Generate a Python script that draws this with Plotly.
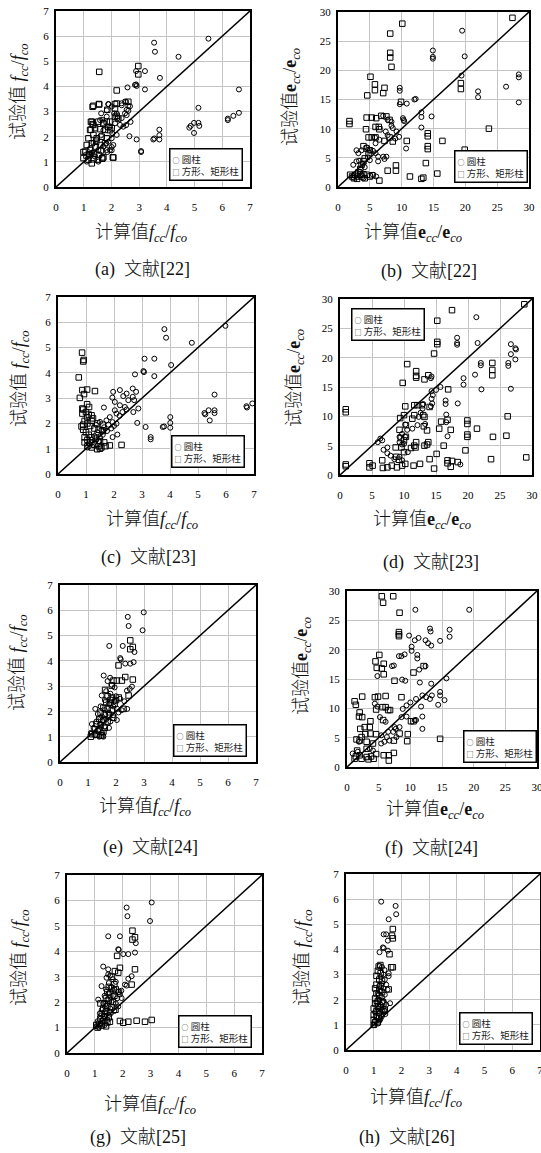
import plotly.graph_objects as go

W, H = 541, 1153
FONT = "Liberation Serif, 'Noto Sans CJK SC', serif"
CJK = "'Noto Sans CJK SC', Liberation Serif, sans-serif"

# ---------------- data (x = calculated, y = test) ----------------
F_TICKS = [0, 1, 2, 3, 4, 5, 6, 7]
E_TICKS = [0, 5, 10, 15, 20, 25, 30]
F_DIAG = [0, 7]
E_DIAG = [0, 30]
LEGEND_NAMES = ["圆柱", "方形、矩形柱"]

A_circle = [(3.54,5.74),(3.57,5.38),(5.50,5.90),(4.42,5.18),(3.75,4.34),(3.21,4.61),(2.89,4.61),(2.89,4.08),(2.91,4.02),(3.21,3.88),
 (2.58,3.96),(6.60,3.88),(5.14,3.15),(6.60,2.95),(6.40,2.83),(6.20,2.72),(6.20,2.66),(4.98,2.55),(5.14,2.55),(5.17,2.43),
 (4.86,2.43),(4.81,2.36),(4.98,2.15),(3.73,2.28),(3.73,2.06),(3.73,1.89),(3.51,1.89),(3.55,1.93),(2.91,1.89),(2.65,2.02),
 (3.07,1.43),(3.07,1.39),(2.53,3.39),(2.67,3.21),(2.61,3.03),(2.55,2.86),(2.69,2.59),(2.53,2.46),(2.37,3.25),(2.19,2.92),
 (1.89,3.29),(1.83,3.05),(1.59,2.66),(1.71,2.26),(1.81,1.73),(2.01,1.59),(2.01,1.46),(1.85,1.39),
 (2.85,4.06),(1.89,3.30),(2.01,3.20),(2.37,3.33),(2.49,3.40),(2.61,3.23),(1.83,2.80),(2.10,2.93),(2.23,2.74),(2.37,2.74),
 (2.49,2.93),(2.55,3.07),(1.63,2.93),(1.67,2.67),(1.95,2.40),(2.13,2.53),(2.31,2.47),(2.43,2.40),(2.03,2.14),(2.19,2.07),
 (1.89,1.80),(2.01,1.94),(2.07,1.67),(1.71,1.61),(1.53,1.47),(1.83,1.47),(1.95,1.47),(1.41,1.21),(1.23,1.21),(1.11,1.01),
 (1.53,1.01),(1.35,1.75),(1.25,1.55),(1.45,1.90),(1.62,2.05),(1.30,1.35),(1.18,1.30)]
A_square = [(2.97,4.81),(2.97,4.48),(1.56,4.58),(2.19,3.84),(1.56,3.28),(1.32,3.19),(2.19,3.32),(2.13,3.12),(2.61,3.39),(1.26,2.59),
 (1.32,2.50),(1.26,2.28),(2.07,1.17),(1.67,1.13),(0.99,1.39),(2.13,2.79),(1.95,2.26),(1.89,2.39),(1.71,2.52),(2.25,2.72),
 (1.35,3.23),(1.55,3.30),(1.85,3.07),(2.13,3.30),(1.29,2.60),(1.35,2.47),(1.53,2.60),(1.71,2.54),(1.83,2.60),(1.95,2.60),
 (2.19,2.83),(1.23,2.27),(1.41,2.34),(1.59,2.30),(1.77,2.27),(2.01,2.34),(1.17,1.94),(1.35,2.07),(1.47,1.94),(1.65,2.00),
 (1.83,1.94),(1.11,1.67),(1.29,1.74),(1.43,1.61),(1.59,1.67),(1.77,1.74),(1.05,1.41),(1.23,1.47),(1.38,1.34),(1.55,1.27),
 (1.71,1.18),(0.99,1.15),(1.17,1.08),(1.35,1.10),(1.51,1.08),(1.67,1.14),(2.05,1.18),(1.29,0.94),(1.20,1.30),(1.45,1.80),
 (1.62,1.45),(1.10,1.25)]

B_circle = [(19.5,26.8),(14.9,23.4),(14.9,22.3),(14.9,22.0),(19.9,22.4),(19.4,19.1),(28.4,19.3),(28.4,18.8),(28.4,14.5),(26.4,17.2),
 (22.0,16.4),(22.0,15.4),(12.0,15.0),(10.8,14.3),(9.7,17.0),(9.7,16.5),(9.7,14.2),(14.7,12.1),(13.1,12.8),(13.1,12.0),
 (13.1,10.2),(10.3,11.5),(7.1,12.2),(7.8,11.5),(8.4,11.2),(8.6,10.1),(9.2,9.5),(9.6,8.6),(10.2,11.8),(10.4,11.3),
 (9.0,8.3),(7.5,9.5),(7.8,8.9),(6.5,8.1),(5.9,7.5),(2.9,6.3),(3.2,5.8),(3.7,6.3),(5.5,6.2),(5.9,5.8),
 (6.3,5.2),(7.1,5.2),(7.6,5.2),(7.3,4.8),(6.3,4.4),(2.9,4.4),(3.3,4.5),(2.4,3.8),(4.2,3.4),(2.4,1.6),
 (5.5,2.1),(6.0,1.8),(10.7,6.6),(12.2,15.1),(8.4,10.5),(5.8,8.5),(4.5,6.8),(5.0,6.3),(4.7,5.1),(5.0,4.6),
 (3.9,4.0),(3.5,2.6),(4.0,1.5)]
B_square = [(10.1,28.0),(27.4,29.0),(8.2,26.3),(8.2,23.0),(8.2,22.2),(8.4,20.6),(5.1,18.9),(5.8,17.6),(5.8,16.6),(7.3,17.0),
 (7.1,16.1),(4.6,15.7),(9.9,14.6),(1.8,11.3),(1.8,10.8),(14.1,9.2),(14.1,8.7),(14.1,7.0),(14.1,6.5),(16.4,7.9),
 (23.7,10.0),(19.9,6.4),(19.3,17.8),(19.3,16.8),(13.8,4.1),(13.1,1.4),(13.4,1.6),(15.6,2.3),(4.5,11.9),(5.3,11.9),
 (6.0,11.8),(6.8,12.2),(7.6,12.1),(8.1,11.5),(4.4,9.9),(5.9,10.3),(6.4,10.3),(6.5,9.9),(4.8,8.5),(5.3,8.5),
 (5.9,8.5),(7.3,7.9),(8.1,8.5),(8.6,7.8),(10.8,7.9),(4.0,7.0),(4.5,6.6),(5.0,6.3),(4.8,5.8),(4.2,4.9),
 (4.0,4.4),(3.7,3.8),(3.5,3.1),(3.2,2.5),(1.9,2.1),(2.2,1.8),(2.7,2.1),(3.0,1.8),(3.5,2.1),(3.7,1.8),
 (4.0,2.2),(4.5,2.1),(5.0,1.8),(5.4,2.0),(6.5,1.1),(7.8,2.8),(9.1,3.7),(9.1,2.8),(11.3,1.8),(2.5,1.5),
 (3.0,1.4),(4.2,1.5)]

C_circle = [(3.80,5.73),(3.86,5.39),(5.98,5.86),(4.78,5.19),(3.09,4.56),(3.44,4.56),(4.04,4.31),(3.05,4.07),(3.07,4.03),(3.44,3.87),
 (2.75,3.94),(5.59,3.14),(6.94,2.79),(6.73,2.68),(6.75,2.63),(5.23,2.41),(5.38,2.52),(5.59,2.52),(5.59,2.41),(5.42,2.12),
 (5.26,2.36),(4.01,2.25),(4.01,2.02),(4.01,1.83),(3.79,1.88),(3.74,1.86),(3.13,1.86),(2.83,2.02),(3.31,1.46),(3.31,1.37),
 (2.67,3.38),(2.79,3.25),(2.67,3.05),(2.72,2.92),(2.87,2.59),(2.69,2.45),(2.21,3.32),(2.33,3.08),(1.97,3.25),(1.94,3.02),
 (2.03,2.85),(2.21,2.72),(2.39,2.65),(2.51,2.92),(2.45,3.18),(1.64,2.63),(2.03,2.52),(2.09,1.99),(1.95,1.46),(2.12,1.56),
 (2.09,2.39),(1.85,2.25),(1.73,2.12),(1.50,2.06),(1.95,2.05),(1.80,1.95),(1.65,1.85),(1.55,1.75),(1.40,1.65),(1.30,1.50),
 (1.20,1.35),(1.10,1.20),(1.05,1.05),(1.25,1.15),(1.45,1.30),(1.60,1.55),(1.75,1.70),(1.90,1.80),(2.00,1.90),(1.35,1.95),
 (1.50,1.45),(2.20,2.30),(2.30,2.45),(2.45,2.55)]
C_square = [(0.86,4.80),(0.92,4.51),(0.90,4.45),(0.74,3.82),(0.78,3.01),(0.87,3.32),(0.93,3.16),(1.04,3.34),(1.32,3.28),(1.04,2.76),
 (1.11,2.65),(0.87,2.59),(0.87,2.39),(1.20,2.32),(1.04,2.25),(0.84,1.88),(2.27,1.15),(1.85,1.13),(0.90,2.55),(1.00,2.45),
 (1.10,2.35),(1.25,2.20),(0.95,2.10),(1.05,2.00),(1.15,1.90),(1.30,1.80),(1.45,1.75),(1.60,1.70),(0.90,1.75),(1.00,1.65),
 (1.10,1.55),(1.20,1.45),(1.35,1.40),(1.50,1.30),(1.65,1.25),(0.95,1.45),(1.05,1.35),(1.15,1.25),(1.30,1.15),(1.45,1.10),
 (1.55,1.05),(1.70,1.10),(0.95,1.25),(1.05,1.10),(1.20,1.05),(1.40,0.98),(1.50,1.00),(0.90,1.95),(1.20,2.10),(1.40,2.00),
 (1.60,1.95)]

D_circle = [(21.3,26.9),(18.3,23.4),(18.3,22.5),(18.3,22.2),(21.5,22.5),(22.0,19.1),(22.0,18.7),(21.1,17.1),(19.3,16.5),(19.3,15.4),
 (22.1,14.6),(26.7,22.3),(26.7,20.6),(27.4,21.6),(27.5,21.4),(27.4,19.7),(26.3,19.1),(26.3,18.6),(26.7,14.7),(15.7,15.0),
 (15.0,14.5),(14.3,14.3),(14.5,13.6),(14.3,13.0),(14.4,12.2),(14.2,11.7),(16.5,12.7),(16.5,12.1),(18.4,12.2),(16.6,10.3),
 (16.6,9.0),(16.8,6.6),(18.8,1.8),(14.3,16.8),(14.2,16.5),(13.0,12.1),(12.9,11.3),(12.6,10.6),(12.3,9.9),(13.3,8.7),
 (12.1,8.5),(11.3,7.9),(10.5,7.7),(10.6,3.9),(10.2,6.5),(9.7,7.0),(9.3,6.5),(9.3,5.6),(10.0,5.3),(9.7,5.2),
 (6.6,5.9),(6.3,6.2),(5.9,5.6),(6.8,4.3),(7.4,4.7),(7.4,3.7),(7.9,3.3),(8.5,2.7),(9.3,3.1),(9.7,2.5),
 (10.2,8.6)]
D_square = [(17.5,28.1),(28.8,29.1),(15.2,26.3),(15.2,22.7),(15.2,22.3),(14.7,20.7),(10.5,18.9),(11.9,17.7),(11.9,16.9),(11.9,16.6),
 (13.8,17.0),(13.2,16.3),(9.8,15.7),(16.9,14.6),(23.8,19.1),(23.8,17.9),(23.8,17.0),(19.9,9.3),(19.9,8.7),(19.9,6.9),
 (19.9,6.5),(21.4,7.9),(26.2,10.0),(26.0,6.7),(23.9,6.5),(23.6,2.7),(29.1,3.0),(16.8,9.4),(15.8,9.1),(15.5,7.9),
 (17.3,7.7),(19.6,4.2),(16.2,5.0),(15.1,3.6),(14.7,1.1),(16.8,2.5),(16.8,2.0),(17.5,2.4),(17.3,1.4),(18.4,2.2),
 (14.0,2.7),(12.5,1.9),(11.5,1.6),(0.9,1.8),(0.9,1.5),(0.9,11.2),(0.9,10.7),(4.6,2.0),(5.1,1.6),(4.6,1.3),
 (6.6,2.5),(6.7,1.2),(7.4,1.3),(8.1,1.6),(8.9,1.3),(8.8,3.1),(9.2,2.6),(9.7,1.6),(10.2,1.9),(8.7,4.7),
 (9.6,4.7),(9.5,6.3),(9.3,7.7),(9.4,9.7),(10.2,11.7),(10.0,10.2),(10.3,8.5),(10.3,6.5),(10.0,5.9),(10.0,3.9),
 (11.1,4.6),(11.8,4.7),(11.9,5.6),(11.3,9.6),(11.6,11.9),(11.6,10.2),(12.1,11.9),(12.8,11.9),(13.2,9.9),(13.0,10.2),
 (13.1,8.3),(13.6,7.6),(13.8,5.6),(13.6,5.2),(13.2,5.0),(14.0,11.6),(11.6,5.0)]

E_circle = [(2.99,5.92),(2.42,5.74),(2.45,5.38),(2.95,5.21),(1.76,4.59),(2.24,4.59),(2.66,4.35),(2.15,4.11),(2.17,4.06),(2.33,3.89),
 (2.51,3.89),(2.63,3.95),(1.56,3.42),(1.79,3.33),(2.57,2.98),(2.49,2.89),(2.39,2.82),(1.49,2.63),(2.09,1.96),(2.03,1.66),
 (1.26,2.10),(1.44,1.76),(1.14,1.50),(1.70,3.20),(1.85,3.05),(1.95,2.95),(1.65,2.80),(1.80,2.70),(2.00,2.60),(2.15,2.50),
 (2.30,2.40),(1.60,2.45),(1.75,2.30),(1.90,2.20),(2.05,2.10),(1.45,2.20),(1.60,2.05),(1.75,1.95),(1.90,1.85),(1.35,1.90),
 (1.50,1.80),(1.65,1.70),(1.80,1.60),(1.30,1.60),(1.45,1.50),(1.60,1.40),(1.75,1.35),(1.20,1.35),(1.35,1.25),(1.50,1.15),
 (1.25,1.05),(1.40,1.00),(1.10,1.15),(1.55,1.00),(2.20,2.05),(2.40,2.10),(1.95,2.40)]
E_square = [(2.51,4.81),(2.60,4.55),(2.51,4.46),(2.09,3.82),(2.60,3.26),(2.33,3.36),(1.91,3.22),(2.03,3.22),(2.21,3.22),(1.85,3.02),
 (1.61,2.85),(2.45,2.63),(2.27,2.10),(1.70,2.60),(1.85,2.55),(2.00,2.45),(1.65,2.35),(1.80,2.35),(1.95,2.30),(1.55,2.15),
 (1.70,2.10),(1.85,2.05),(1.45,1.95),(1.60,1.90),(1.75,1.85),(1.90,1.75),(1.40,1.70),(1.55,1.65),(1.70,1.60),(1.30,1.50),
 (1.45,1.45),(1.60,1.35),(1.25,1.30),(1.40,1.25),(1.55,1.20),(1.15,1.10),(1.30,1.08),(1.45,1.05),(1.10,1.00),(1.80,2.45),
 (2.10,2.55),(1.50,1.05)]

F_circle = [(10.8,26.8),(19.3,26.8),(9.8,22.4),(11.3,22.0),(10.7,21.6),(13.1,23.6),(13.2,23.1),(16.2,23.4),(16.2,22.2),(14.7,21.5),
 (12.4,21.6),(12.8,21.1),(13.3,20.7),(10.2,20.5),(10.2,19.8),(11.1,19.1),(11.1,18.5),(9.1,19.2),(8.2,18.9),(8.6,18.9),
 (7.4,17.3),(7.1,17.2),(11.4,16.6),(12.4,17.2),(8.7,14.9),(9.2,14.7),(11.5,14.4),(13.3,14.2),(15.7,15.1),(4.8,15.5),
 (11.9,12.2),(13.4,12.2),(14.7,12.2),(14.7,12.8),(15.4,11.4),(14.4,10.6),(11.7,10.3),(10.9,11.6),(10.0,11.0),(9.4,10.5),
 (8.8,9.9),(8.6,8.5),(9.4,8.6),(8.3,6.8),(7.7,6.5),(7.3,6.0),(7.5,6.8),(11.9,8.6),(11.9,6.5),(10.7,8.0),
 (10.9,8.0),(12.5,11.9),(13.1,11.6),(4.4,10.8),(4.8,10.3),(5.2,8.5),(6.1,7.7),(6.3,5.1),(5.4,5.4),(5.9,4.3),
 (6.7,4.5),(5.4,4.0),(6.5,6.0),(7.8,5.1),(1.9,4.3),(3.6,3.1),(4.1,2.8),(1.7,2.6),(0.9,2.3)]
F_square = [(5.5,29.1),(7.3,29.1),(5.7,28.0),(8.3,26.3),(8.2,23.0),(8.2,22.6),(8.2,22.3),(5.1,19.1),(5.8,17.6),(4.5,18.0),
 (4.7,16.9),(5.5,16.8),(5.8,15.8),(7.5,14.7),(12.1,17.2),(10.5,16.1),(2.4,12.0),(1.2,11.2),(1.4,10.6),(4.4,11.9),
 (4.9,12.0),(6.1,12.1),(4.6,9.8),(6.1,10.2),(5.6,10.2),(6.5,9.7),(6.8,9.7),(2.0,9.3),(1.9,8.6),(2.4,8.5),
 (3.7,7.8),(5.7,8.0),(8.6,11.9),(8.3,5.7),(9.6,5.6),(9.5,4.4),(10.1,7.8),(10.5,7.8),(14.7,4.8),(7.4,2.4),
 (6.6,2.0),(6.6,1.1),(5.8,2.0),(7.4,4.5),(2.1,6.5),(2.8,6.8),(3.6,6.8),(2.3,5.1),(2.9,5.6),(3.7,5.7),
 (4.6,5.6),(1.5,4.7),(2.0,4.5),(3.1,4.3),(4.1,4.0),(1.4,1.8),(1.2,1.4),(2.0,2.0),(2.3,1.4),(3.1,1.7),
 (3.8,1.8),(3.4,1.3),(4.2,1.4),(4.6,2.2),(1.6,2.8),(3.1,3.1)]

G_circle = [(3.04,5.92),(2.14,5.72),(2.17,5.38),(2.98,5.19),(1.48,4.59),(1.90,4.59),(2.47,4.32),(1.84,4.08),(1.86,4.06),(2.02,3.89),
 (2.20,3.89),(2.44,3.95),(1.30,3.40),(1.48,3.29),(2.32,3.02),(2.20,2.92),(2.08,2.69),(2.14,2.65),(1.24,2.63),(1.48,3.09),
 (1.42,2.96),(1.96,2.16),(1.84,1.83),(1.12,2.10),(1.18,1.56),(1.55,3.05),(1.65,2.90),(1.75,2.80),(1.50,2.75),(1.60,2.60),
 (1.70,2.50),(1.85,2.40),(1.40,2.50),(1.50,2.35),(1.65,2.25),(1.80,2.15),(1.35,2.25),(1.45,2.10),(1.60,2.00),(1.75,1.95),
 (1.30,1.95),(1.40,1.85),(1.55,1.75),(1.70,1.65),(1.25,1.70),(1.35,1.60),(1.50,1.50),(1.20,1.45),(1.30,1.35),(1.45,1.30),
 (1.10,1.25),(1.20,1.15),(1.35,1.10),(1.05,1.05),(1.15,1.00),(1.95,2.45),(1.90,2.30)]
G_square = [(2.35,4.81),(2.44,4.55),(2.35,4.46),(1.80,3.82),(2.44,3.29),(1.90,3.35),(1.72,3.22),(1.84,3.16),(2.32,2.69),(1.74,1.70),
 (1.54,1.23),(1.90,1.26),(2.02,1.19),(2.20,1.23),(2.50,1.27),(2.80,1.23),(3.04,1.30),(1.50,2.60),(1.60,2.55),(1.75,2.50),
 (1.45,2.40),(1.55,2.30),(1.70,2.25),(1.85,2.40),(1.40,2.15),(1.50,2.05),(1.65,2.00),(1.35,1.95),(1.45,1.85),(1.60,1.80),
 (1.30,1.75),(1.40,1.65),(1.55,1.60),(1.25,1.55),(1.35,1.45),(1.50,1.40),(1.20,1.35),(1.30,1.25),(1.45,1.20),(1.15,1.15),
 (1.25,1.08),(1.40,1.05),(1.10,1.00),(1.05,1.10),(1.20,1.95),(1.60,3.00),(1.70,2.70)]

H_circle = [(1.27,5.90),(1.79,5.73),(1.81,5.40),(1.54,5.20),(1.36,4.60),(1.45,4.60),(1.51,4.35),(1.33,4.08),(1.36,4.05),(1.21,3.89),
 (1.51,3.95),(1.21,3.34),(1.39,3.18),(1.54,3.05),(1.54,2.94),(1.59,1.86),(1.42,1.43),(1.21,1.17),(1.30,3.30),(1.35,3.00),
 (1.25,2.90),(1.40,2.80),(1.30,2.65),(1.20,2.55),(1.35,2.45),(1.25,2.35),(1.15,2.25),(1.40,2.20),(1.30,2.10),(1.20,2.00),
 (1.10,1.90),(1.35,1.95),(1.45,1.80),(1.25,1.80),(1.15,1.65),(1.30,1.60),(1.40,1.55),(1.05,1.50),(1.20,1.45),(1.30,1.35),
 (1.10,1.30),(1.25,1.25),(1.05,1.15),(1.15,1.05),(1.00,1.00),(1.50,2.40),(1.45,2.60)]
H_square = [(1.69,4.81),(1.66,4.55),(1.69,4.44),(1.57,3.81),(1.63,3.29),(1.69,3.29),(1.54,2.41),(1.18,3.32),(1.24,3.38),(1.15,3.15),
 (1.25,3.05),(1.10,2.95),(1.20,2.80),(1.30,2.75),(1.10,2.60),(1.25,2.55),(1.05,2.45),(1.20,2.40),(1.30,2.30),(1.10,2.25),
 (1.20,2.15),(1.05,2.05),(1.15,1.95),(1.30,1.90),(1.05,1.85),(1.15,1.75),(1.25,1.70),(1.00,1.65),(1.10,1.55),(1.20,1.50),
 (1.35,1.55),(1.00,1.40),(1.10,1.35),(1.20,1.25),(1.00,1.20),(1.05,1.10),(1.15,1.10),(1.00,1.00),(1.35,1.85),(1.40,1.60)]

CAPTIONS = ["(a)  文献[22]", "(b)  文献[22]", "(c)  文献[23]", "(d)  文献[23]",
            "(e)  文献[24]", "(f)  文献[24]", "(g)  文献[25]", "(h)  文献[26]"]

# ---------------- layout (pixel boxes) ----------------
F_X = "<i>f</i><sub><i>cc</i></sub>/<i>f</i><sub><i>co</i></sub>"
E_X = "<b>e</b><sub><i>cc</i></sub>/<b>e</b><sub><i>co</i></sub>"

panels = [
    dict(c=A_circle, s=A_square, kind="f", box=(56, 250, 11, 187), leg=("br", 243, 181),
         xt=(141, 233), yt=(20, 92), cap=(142, 270)),
    dict(c=B_circle, s=B_square, kind="e", box=(338, 529, 12, 187), leg=("br", 528, 183),
         xt=(413, 233), yt=(292, 97), cap=(429, 272)),
    dict(c=C_circle, s=C_square, kind="f", box=(58, 254, 297, 474), leg=("br", 245, 468),
         xt=(152, 520), yt=(20, 379), cap=(148, 557)),
    dict(c=D_circle, s=D_square, kind="e", box=(340, 532, 299, 475), leg=("tl", 351, 308),
         xt=(422, 520), yt=(295, 378), cap=(431, 562)),
    dict(c=E_circle, s=E_square, kind="f", box=(60, 256, 585, 762), leg=("br", 247, 757),
         xt=(145, 807), yt=(18, 663), cap=(150, 847)),
    dict(c=F_circle, s=F_square, kind="e", box=(347, 537, 591, 767), leg=("br", 537, 763),
         xt=(435, 810), yt=(302, 666), cap=(431, 848)),
    dict(c=G_circle, s=G_square, kind="f", box=(67, 262, 875, 1053), leg=("br", 252, 1048),
         xt=(150, 1105), yt=(20, 958), cap=(138, 1137)),
    dict(c=H_circle, s=H_square, kind="f", box=(346, 540, 874, 1050), leg=("br", 533, 1045),
         xt=(416, 1098), yt=(303, 958), cap=(407, 1137)),
]

SYM = "<span style='font-size:7px'>{}</span>"
LEGEND_TEXT = (SYM.format("○") + " " + LEGEND_NAMES[0] + "<br>" +
               SYM.format("□") + " " + LEGEND_NAMES[1])

fig = go.Figure()
layout = dict(width=W, height=H, margin=dict(l=0, r=0, t=0, b=0, autoexpand=False),
              paper_bgcolor="white", plot_bgcolor="white", showlegend=False,
              font=dict(family=FONT, color="black"))
annotations = []

for i, p in enumerate(panels, start=1):
    sfx = "" if i == 1 else str(i)
    x0, x1, y0, y1 = p["box"]
    is_f = p["kind"] == "f"
    rng = [0, 7] if is_f else [0, 30]
    tv = F_TICKS if is_f else E_TICKS
    diag = F_DIAG if is_f else E_DIAG
    common = dict(range=rng, tickvals=tv, showline=True, mirror=True, linecolor="black",
                  linewidth=2, showgrid=True, gridcolor="#c4c4c4", gridwidth=1,
                  zeroline=False, ticks="", fixedrange=True, automargin=False,
                  ticklabeloverflow="allow",
                  tickfont=dict(family=FONT, size=11, color="black"))
    layout["xaxis" + sfx] = dict(domain=[x0 / W, x1 / W], anchor="y" + sfx,
                                 ticklabelstandoff=9, **common)
    layout["yaxis" + sfx] = dict(domain=[1 - y1 / H, 1 - y0 / H], anchor="x" + sfx,
                                 ticklabelstandoff=3, **common)

    xa, ya = "x" + sfx, "y" + sfx
    fig.add_trace(go.Scatter(x=diag, y=diag, mode="lines", line=dict(color="black", width=1.5),
                             showlegend=False, hoverinfo="skip", xaxis=xa, yaxis=ya))
    fig.add_trace(go.Scatter(x=[q[0] for q in p["c"]], y=[q[1] for q in p["c"]], mode="markers",
                             name=LEGEND_NAMES[0], showlegend=False,
                             marker=dict(symbol="circle-open", size=5, color="black",
                                         line=dict(width=1, color="black")),
                             xaxis=xa, yaxis=ya))
    fig.add_trace(go.Scatter(x=[q[0] for q in p["s"]], y=[q[1] for q in p["s"]], mode="markers",
                             name=LEGEND_NAMES[1], showlegend=False,
                             marker=dict(symbol="square-open", size=5.5, color="black",
                                         line=dict(width=1, color="black")),
                             xaxis=xa, yaxis=ya))

    # legend box
    corner, lx, ly = p["leg"]
    annotations.append(dict(text=LEGEND_TEXT, x=lx / W, y=1 - ly / H, xref="paper", yref="paper",
                            showarrow=False, align="left",
                            xanchor="right" if corner == "br" else "left",
                            yanchor="bottom" if corner == "br" else "top",
                            bgcolor="white", bordercolor="black", borderwidth=1.5, borderpad=2,
                            font=dict(family=CJK, size=9.5, color="#222")))

    xt = "计算值" + (F_X if is_f else E_X)
    yt = "试验值" + (" " if is_f else "") + (F_X if is_f else E_X)
    annotations.append(dict(text=xt, x=p["xt"][0] / W, y=1 - p["xt"][1] / H, xref="paper", yref="paper",
                            showarrow=False, xanchor="center", yanchor="middle",
                            font=dict(family=FONT, size=18, color="#111", weight=300)))
    annotations.append(dict(text=yt, x=p["yt"][0] / W, y=1 - p["yt"][1] / H, xref="paper", yref="paper",
                            showarrow=False, xanchor="center", yanchor="middle", textangle=-90,
                            font=dict(family=FONT, size=18, color="#111", weight=300)))
    annotations.append(dict(text=CAPTIONS[i - 1].replace("  ", "\u00a0\u00a0"),
                            x=p["cap"][0] / W, y=1 - p["cap"][1] / H, xref="paper", yref="paper",
                            showarrow=False, xanchor="center", yanchor="middle",
                            font=dict(family=FONT, size=18, color="#111", weight=300)))

layout["annotations"] = annotations
fig.update_layout(**layout)
fig.write_html("out.html", config={"displayModeBar": False},
               post_script="document.body.style.margin='0px';")
